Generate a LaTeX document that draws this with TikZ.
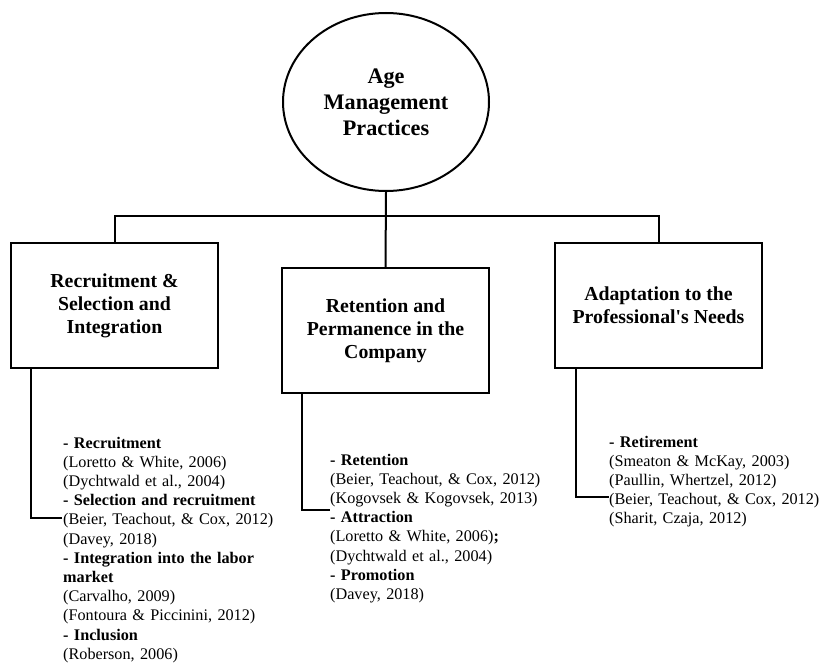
\documentclass[tikz,border=0pt]{standalone}
\usepackage{fontspec}
\setmainfont{Liberation Serif}[Ligatures=TeXOff]
\usetikzlibrary{shapes.geometric}
\begin{document}
\begin{tikzpicture}[x=1pt,y=-1pt,
  conn/.style={line width=2pt},
  rootnode/.style={draw,ellipse,line width=2pt,minimum width=206pt,minimum height=178pt,inner sep=0pt,align=center,font=\fontsize{22.2}{26}\selectfont\bfseries},
  boxnode/.style={draw,rectangle,line width=2pt,minimum width=207pt,minimum height=125pt,inner sep=0pt,align=center,font=\fontsize{19.8}{23}\selectfont\bfseries},
  refs/.style={anchor=base west,inner sep=0pt,text width=260pt,align=left,font=\fontsize{16.2}{19.2}\selectfont}]
\useasboundingbox (0,0) rectangle (822,663);
\node[rootnode] (root) at (386,102) {Age\\Management\\Practices};
\node[boxnode] (b1) at (114.5,305.5) {Recruitment \&\\Selection and\\Integration};
\node[boxnode] (b2) at (385.5,330.5) {Retention and\\Permanence in the\\Company};
\node[boxnode] (b3) at (658.5,305.5) {Adaptation to the\\Professional's Needs};
\coordinate (bar) at (386,216);
\draw[conn] (root.south) -- (b2.north);
\draw[conn] (b1.north) |- (bar) -| (b3.north);
\node[refs] (t1) at (63,448) {\textbf{- Recruitment}\\
(Loretto \& White, 2006)\\
(Dychtwald et al., 2004)\\
\textbf{- Selection and recruitment}\\
(Beier, Teachout, \& Cox, 2012)\\
(Davey, 2018)\\
\textbf{- Integration into the labor}\\
\textbf{market}\\
(Carvalho, 2009)\\
(Fontoura \& Piccinini, 2012)\\
\textbf{- Inclusion}\\
(Roberson, 2006)};
\node[refs] (t2) at (330,465) {\textbf{- Retention}\\
(Beier, Teachout, \& Cox, 2012)\\
(Kogovsek \& Kogovsek, 2013)\\
\textbf{- Attraction}\\
(Loretto \& White, 2006)\textbf{;}\\
(Dychtwald et al., 2004)\\
\textbf{- Promotion}\\
(Davey, 2018)};
\node[refs] (t3) at (609,447) {\textbf{- Retirement}\\
(Smeaton \& McKay, 2003)\\
(Paullin, Whertzel, 2012)\\
(Beier, Teachout, \& Cox, 2012)\\
(Sharit, Czaja, 2012)};
\coordinate (e1) at (62,518);
\coordinate (e2) at (330,510);
\coordinate (e3) at (609,497);
\draw[conn] ([xshift=21pt]b1.south west) |- (e1);
\draw[conn] ([xshift=21pt]b2.south west) |- (e2);
\draw[conn] ([xshift=22pt]b3.south west) |- (e3);
\end{tikzpicture}
\end{document}
